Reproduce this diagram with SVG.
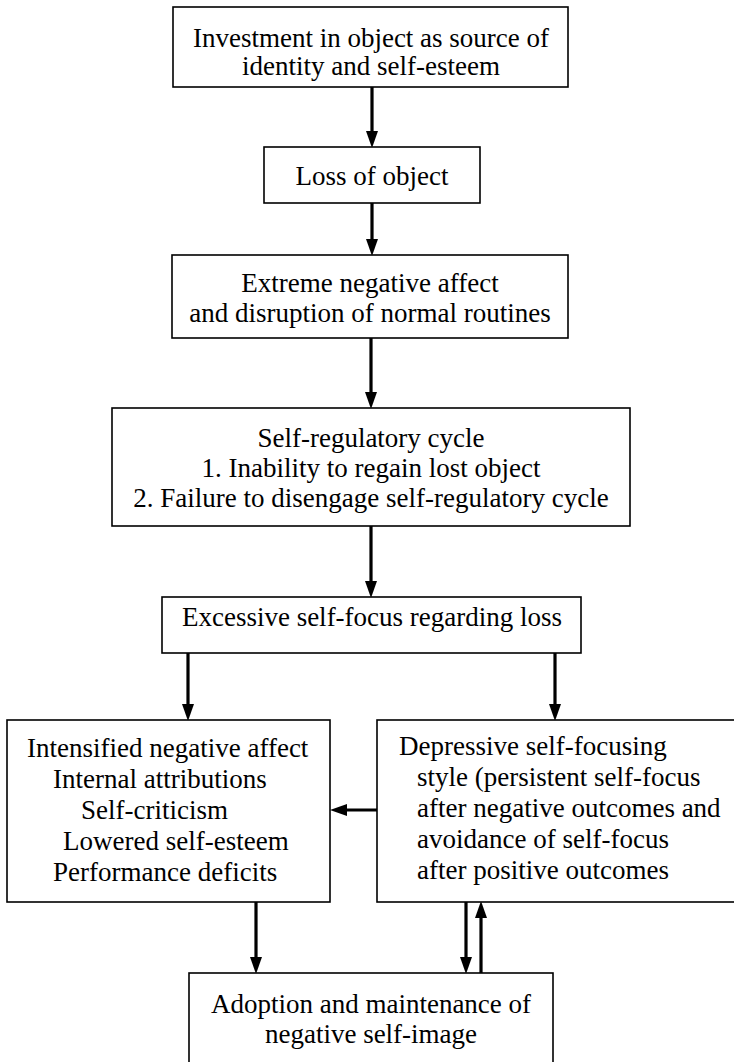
<svg xmlns="http://www.w3.org/2000/svg" width="734" height="1062" viewBox="0 0 734 1062">
<style>
.box{fill:#fff;stroke:#000;stroke-width:1.6}
.t{font-family:"Liberation Serif","Times New Roman",serif;font-size:27px;fill:#000}
.c{text-anchor:middle}
.arr{stroke:#000;stroke-width:3.2;fill:none;marker-end:url(#ah)}
</style>
<defs>
<marker id="ah" markerUnits="userSpaceOnUse" markerWidth="17" markerHeight="13" refX="6" refY="6.5" orient="auto" viewBox="0 0 17 13">
<path d="M0,0.5 L17,6.5 L0,12.5 z" fill="#000"/>
</marker>
</defs>
<rect width="734" height="1062" fill="#fff"/>
<g id="connectors">
<line class="arr" x1="372" y1="87" x2="372" y2="137"/>
<line class="arr" x1="372" y1="203" x2="372" y2="245"/>
<line class="arr" x1="371" y1="338" x2="371" y2="398"/>
<line class="arr" x1="371" y1="526" x2="371" y2="587"/>
<line class="arr" x1="188" y1="653" x2="188" y2="710"/>
<line class="arr" x1="555" y1="653" x2="555" y2="710"/>
<line class="arr" x1="377" y1="810" x2="341" y2="810"/>
<line class="arr" x1="256" y1="902" x2="256" y2="963"/>
<line class="arr" x1="466" y1="902" x2="466" y2="963"/>
<line class="arr" x1="481" y1="973" x2="481" y2="912"/>
</g>
<g id="n1">
<rect class="box" x="173" y="7" width="395" height="80"/>
<text class="t c" x="371" y="47" font-size="25.5">Investment in object as source of</text>
<text class="t c" x="371" y="75" font-size="25.5">identity and self-esteem</text>
</g>
<g id="n2">
<rect class="box" x="264" y="147" width="216" height="56"/>
<text class="t c" x="372" y="185">Loss of object</text>
</g>
<g id="n3">
<rect class="box" x="172" y="255" width="396" height="83"/>
<text class="t c" x="370" y="292">Extreme negative affect</text>
<text class="t c" x="370" y="322">and disruption of normal routines</text>
</g>
<g id="n4">
<rect class="box" x="112" y="408" width="518" height="118"/>
<text class="t c" x="371" y="447">Self-regulatory cycle</text>
<text class="t c" x="371" y="477">1. Inability to regain lost object</text>
<text class="t c" x="371" y="507">2. Failure to disengage self-regulatory cycle</text>
</g>
<g id="n5">
<rect class="box" x="162" y="597" width="419" height="56"/>
<text class="t c" x="372" y="626">Excessive self-focus regarding loss</text>
</g>
<g id="n6">
<rect class="box" x="7" y="720" width="323" height="182"/>
<text class="t" x="27" y="757">Intensified negative affect</text>
<text class="t" x="53" y="788">Internal attributions</text>
<text class="t" x="81" y="819">Self-criticism</text>
<text class="t" x="63" y="850">Lowered self-esteem</text>
<text class="t" x="53" y="881">Performance deficits</text>
</g>
<g id="n7">
<rect class="box" x="377" y="720" width="360" height="182"/>
<text class="t" x="399" y="755">Depressive self-focusing</text>
<text class="t" x="417" y="786">style (persistent self-focus</text>
<text class="t" x="417" y="817">after negative outcomes and</text>
<text class="t" x="417" y="848">avoidance of self-focus</text>
<text class="t" x="417" y="879">after positive outcomes</text>
</g>
<g id="n8">
<rect class="box" x="189" y="973" width="364" height="100"/>
<text class="t c" x="371" y="1013">Adoption and maintenance of</text>
<text class="t c" x="371" y="1043">negative self-image</text>
</g>
</svg>
